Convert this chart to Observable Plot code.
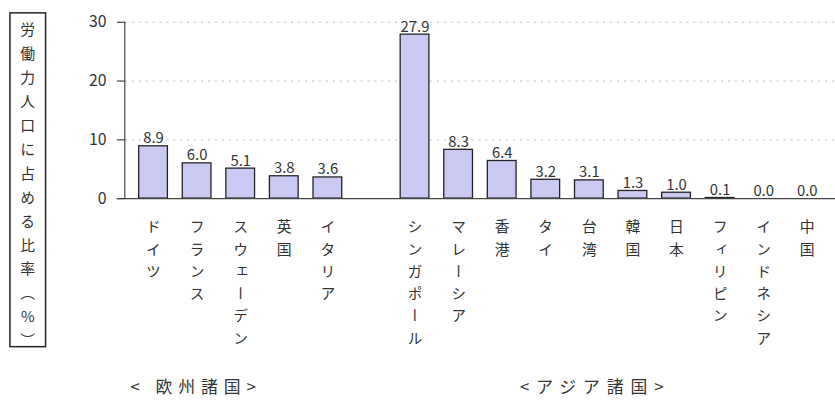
<!DOCTYPE html>
<html>
<head>
<meta charset="utf-8">
<script src="https://cdn.jsdelivr.net/npm/d3@7"></script>
<script src="https://cdn.jsdelivr.net/npm/@observablehq/plot@0.6"></script>
<style>
  html, body { margin: 0; padding: 0; background: #fff; overflow: hidden; width: 835px; height: 408px; }
  #chart { position: relative; width: 835px; height: 408px; overflow: hidden; }
</style>
</head>
<body>
<div id="chart"></div>
<script>
// ---- data ----
const europeNames = ["ドイツ", "フランス", "スウェーデン", "英国", "イタリア"];
const europeValues = [8.9, 6.0, 5.1, 3.8, 3.6];
const asiaNames = ["シンガポール", "マレーシア", "香港", "タイ", "台湾", "韓国", "日本", "フィリピン", "インドネシア", "中国"];
const asiaValues = [27.9, 8.3, 6.4, 3.2, 3.1, 1.3, 1.0, 0.1, 0.0, 0.0];
const europeLabel = "< 欧州諸国>";
const asiaLabel = "<アジア諸国>";
const europeAnchor = "フランス"; // category under which the group label sits
const asiaAnchor = "台湾";
const yTicks = [0, 10, 20, 30];
const gridTicks = [10, 20, 30];
const yTitle = "労働力人口に占める比率（%）";

// ---- build table ----
const rows = [
  ...europeNames.map((n, i) => ({name: n, value: europeValues[i]})),
  ...asiaNames.map((n, i) => ({name: n, value: asiaValues[i]}))
];
const gapKey = "\u2007"; // empty slot between the two groups
const domain = [...europeNames, gapKey, ...asiaNames];
const nameSet = new Set([...europeNames, ...asiaNames]);

const font = "'Noto Sans CJK JP', 'Noto Sans', sans-serif";

const plot = Plot.plot({
  width: 843,
  height: 408,
  marginLeft: 126,
  marginRight: 0,
  marginTop: 22,
  marginBottom: 208,
  style: {fontFamily: font, background: "#fff", color: "#333"},
  x: {domain, paddingInner: 0.34, paddingOuter: 0.17, axis: null},
  y: {domain: [0, 30], axis: null},
  marks: [
    Plot.ruleY(gridTicks, {stroke: "#bbb", strokeDasharray: "2,5", strokeWidth: 1}),
    Plot.barY(rows, {x: "name", y: "value", fill: "#c9c9f3", stroke: "#222", strokeWidth: 1.3}),
    Plot.ruleY([0], {stroke: "#444", strokeWidth: 1.2, insetLeft: -8}),
    Plot.axisY({ticks: yTicks, tickSize: 8, tickPadding: 11, fontSize: 16, stroke: "#444", strokeWidth: 1.2, label: null, anchor: "left"}),
    Plot.text(rows, {x: "name", y: "value", text: d => d.value.toFixed(1), lineAnchor: "bottom", dy: -3, fontSize: 15, fill: "#333"}),
    Plot.text(rows, {x: "name", text: "name", frameAnchor: "bottom", dy: 16, textAnchor: "start", lineAnchor: "middle", fontSize: 15, fill: "#333"}),
    Plot.text([europeLabel], {x: [europeAnchor], text: d => d, frameAnchor: "bottom", dy: 196, dx: -1, fontSize: 17, fill: "#333"}),
    Plot.text([asiaLabel], {x: [asiaAnchor], text: d => d, frameAnchor: "bottom", dy: 196, dx: 6, fontSize: 17, fill: "#333"})
  ]
});

document.getElementById("chart").appendChild(plot);

const svg = d3.select(plot);
const xs = plot.scale("x"), ys = plot.scale("y");

// left axis line from the library's scales
svg.append("line")
  .attr("x1", xs.range[0]).attr("x2", xs.range[0])
  .attr("y1", ys.apply(30)).attr("y2", ys.apply(0))
  .attr("stroke", "#444").attr("stroke-width", 1.2);

// vertical writing for category labels
svg.selectAll("text")
  .filter(function() { return nameSet.has(this.textContent); })
  .attr("dy", null)
  .attr("dominant-baseline", "central")
  .attr("text-anchor", "start")
  .style("writing-mode", "vertical-rl")
  .style("letter-spacing", "7.5px");

// spacing for the group labels
svg.selectAll("text").filter(function() { return this.textContent === europeLabel; }).style("letter-spacing", "6px");
svg.selectAll("text").filter(function() { return this.textContent === asiaLabel; }).style("letter-spacing", "7px");

// boxed vertical y-axis title
const tg = svg.append("g");
tg.append("rect").attr("x", 10).attr("y", 13).attr("width", 36).attr("height", 337)
  .attr("fill", "none").attr("stroke", "#222").attr("stroke-width", 1.5);
tg.append("text").attr("x", 28).attr("y", 22)
  .attr("text-anchor", "start")
  .attr("dominant-baseline", "central")
  .style("writing-mode", "vertical-rl")
  .style("text-orientation", "upright")
  .style("letter-spacing", "9.2px")
  .style("font-family", font)
  .style("font-size", "15px")
  .attr("fill", "#333")
  .text(yTitle);
</script>
</body>
</html>
